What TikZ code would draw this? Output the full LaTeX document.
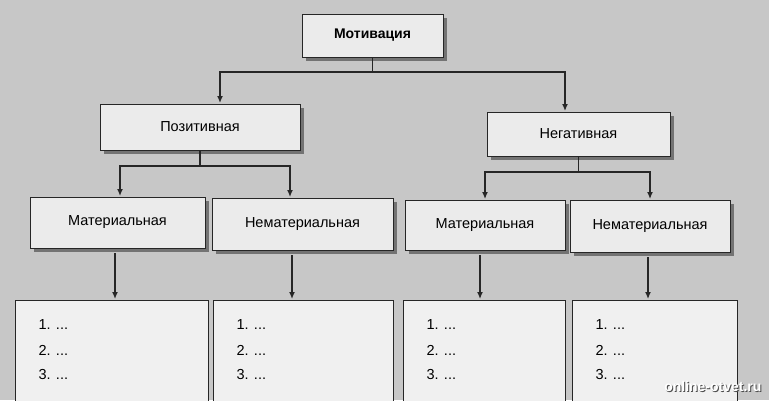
\documentclass[tikz,border=0pt]{standalone}
\usepackage{fontspec}
\setmainfont{Liberation Sans}
\usetikzlibrary{arrows.meta}
\begin{document}
\begin{tikzpicture}[x=1pt,y=-1pt,
  box/.style={draw=black!85,line width=1pt,fill=black!8,font=\fontsize{14.5}{17}\selectfont,inner sep=0pt},
  lst/.style={draw=black!85,line width=1pt,fill=black!6},
  item/.style={font=\fontsize{14.5}{17}\selectfont,anchor=west},
  conn/.style={line width=1.3pt,black!85},
  arr/.style={conn,-{Latex[length=7pt,width=6pt]}}]
\clip (0,0) rectangle (769,400);
\fill[black!22] (0,0) rectangle (769,400);
% shadows
\foreach \a/\b/\c/\d in {302/14/443/57,100/104/300/150,487/112/670/156,30/197/205/248,212/198/393/250,405/200/565/250,570/200/730/252}{
  \fill[black!55] (\a+4,\b+4) rectangle (\c+4,\d+4);}
\node[box,minimum width=141pt,minimum height=43pt,font=\bfseries\fontsize{14}{17}\selectfont] (m) at (372.5,35.5) {Мотивация};
\node[box,minimum width=200pt,minimum height=46pt] (p) at (200,127) {Позитивная};
\node[box,minimum width=183pt,minimum height=44pt] (n) at (578.5,134) {Негативная};
\node[box,minimum width=175pt,minimum height=51pt] (pm) at (117.5,222.5) {Материальная};
\node[box,minimum width=181pt,minimum height=52pt] (pn) at (302.5,224) {Нематериальная};
\node[box,minimum width=160pt,minimum height=50pt] (nm) at (485,225) {Материальная};
\node[box,minimum width=160pt,minimum height=52pt] (nn) at (650,226) {Нематериальная};
% lists
\foreach \nm/\a/\c in {l1/15/208,l2/213/393,l3/403/565,l4/572/737}{
  \draw[lst] (\a,300) rectangle (\c,420);
  \coordinate (\nm) at ({(\a+\c)/2},300);
  \node[item] (\nm a) at (\a+20,325) {1. ...};
  \node[item] (\nm b) at (\a+20,350) {2. ...};
  \node[item] (\nm c) at (\a+20,375) {3. ...};}
% connectors
\coordinate (j0) at (372.5,72);
\draw[conn] (m.south) -- (j0);
\draw[arr] (j0) -| (220,103);
\draw[arr] (j0) -| (565,111);
\coordinate (j1) at (200,166);
\draw[conn] (p.south) -- (j1);
\draw[arr] (j1) -| (120,196);
\draw[arr] (j1) -| (290,197);
\coordinate (j2) at (578.5,172);
\draw[conn] (n.south) -- (j2);
\draw[arr] (j2) -| (485,199);
\draw[arr] (j2) -| (650,199);
\draw[arr] (115,253) -- (115,299);
\draw[arr] (292,255) -- (292,299);
\draw[arr] (480,255) -- (480,299);
\draw[arr] (648,257) -- (648,299);
\node[font=\bfseries\fontsize{14}{16}\selectfont,text=black!70,anchor=east] at (766,387) {online-otvet.ru};
\node[font=\bfseries\fontsize{14}{16}\selectfont,text=white,anchor=east] (wm) at (765,386) {online-otvet.ru};
\end{tikzpicture}
\end{document}
